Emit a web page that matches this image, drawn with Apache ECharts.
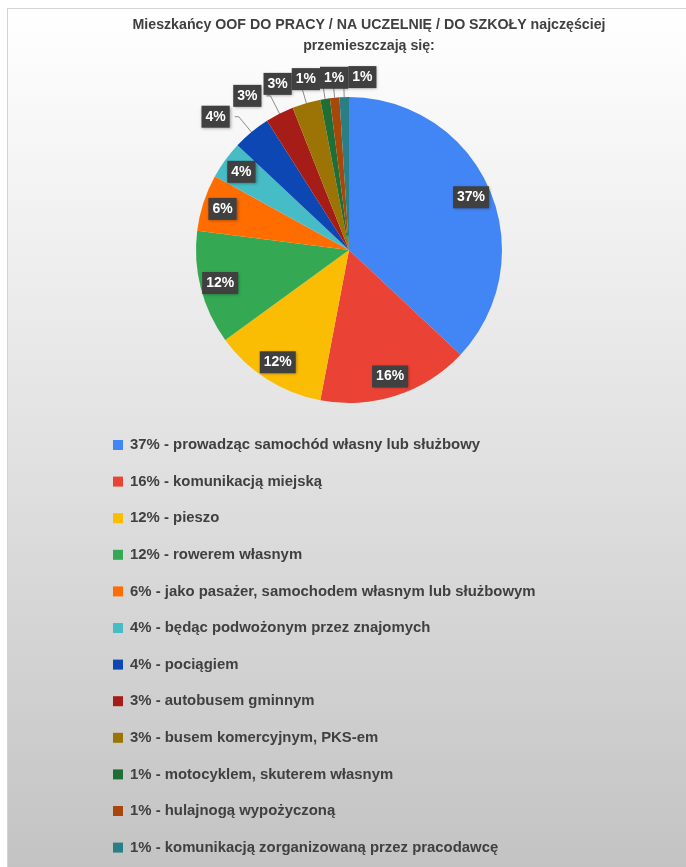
<!DOCTYPE html>
<html>
<head>
<meta charset="utf-8">
<script src="https://cdn.jsdelivr.net/npm/echarts@6/dist/echarts.min.js"></script>
<style>
html,body{margin:0;padding:0;background:#ffffff;}
#frame{position:absolute;left:7px;top:8px;width:679px;height:859px;border-left:1px solid #d4d4d4;border-top:1px solid #d4d4d4;}
#chart{width:679px;height:859px;}
</style>
</head>
<body>
<div id="frame"><div id="chart"></div></div>
<script>
const titleText = 'Mieszkańcy OOF DO PRACY / NA UCZELNIĘ / DO SZKOŁY najczęściej\nprzemieszczają się:';
const categories = [
  'prowadząc samochód własny lub służbowy',
  'komunikacją miejską',
  'pieszo',
  'rowerem własnym',
  'jako pasażer, samochodem własnym lub służbowym',
  'będąc podwożonym przez znajomych',
  'pociągiem',
  'autobusem gminnym',
  'busem komercyjnym, PKS-em',
  'motocyklem, skuterem własnym',
  'hulajnogą wypożyczoną',
  'komunikacją zorganizowaną przez pracodawcę'
];
const values = [37, 16, 12, 12, 6, 4, 4, 3, 3, 1, 1, 1];
const colors = ['#4285F4','#EA4335','#FBBC04','#34A853','#FF6D01','#46BDC6','#0D47B3','#A51D16','#9C7405','#1E6E35','#A8470A','#2A7E85'];
const insideCount = 6;

const boxLabel = {
  color: '#ffffff',
  fontFamily: 'Liberation Sans',
  fontWeight: 'bold',
  fontSize: 14,
  lineHeight: 14,
  backgroundColor: '#404040',
  padding: [4, 4, 4, 4],
  shadowColor: 'rgba(0,0,0,0.35)',
  shadowBlur: 3,
  shadowOffsetX: 1,
  shadowOffsetY: 1,
  formatter: p => p.value + '%'
};

const mainData = categories.map((n, i) => ({
  name: n,
  value: values[i],
  itemStyle: { color: colors[i] },
  label: i < insideCount ? { show: false } : { show: true, position: 'outside' },
  labelLine: { show: i >= insideCount }
}));
const overlayData = categories.map((n, i) => ({
  name: n,
  value: values[i],
  itemStyle: { color: 'rgba(0,0,0,0)' },
  label: { show: i < insideCount }
}));

const chart = echarts.init(document.getElementById('chart'), null, { renderer: 'canvas' });
chart.setOption({
  backgroundColor: {
    type: 'linear', x: 0, y: 0, x2: 0, y2: 1,
    colorStops: [{ offset: 0, color: '#ffffff' }, { offset: 0.5, color: '#e2e2e2' }, { offset: 1, color: '#c3c3c3' }]
  },
  animation: false,
  title: {
    text: titleText,
    left: 356,
    textAlign: 'center',
    top: 1,
    textStyle: { fontFamily: 'Liberation Sans', fontWeight: 'bold', fontSize: 14.2, color: '#404040', lineHeight: 21 }
  },
  legend: {
    orient: 'vertical',
    left: 100,
    top: 423,
    itemWidth: 10,
    itemHeight: 10,
    itemGap: 20.6,
    icon: 'rect',
    data: categories,
    formatter: name => values[categories.indexOf(name)] + '% - ' + name,
    textStyle: { fontFamily: 'Liberation Sans', fontWeight: 'bold', fontSize: 14.9, color: '#404040', lineHeight: 16, padding: [0, 0, 0, 2] }
  },
  series: [
    {
      type: 'pie',
      center: [341, 241],
      radius: [0, 153],
      startAngle: 90,
      clockwise: true,
      avoidLabelOverlap: false,
      data: mainData,
      itemStyle: { borderWidth: 0 },
      label: boxLabel,
      labelLine: { length: 20, length2: 4, lineStyle: { color: '#8c8c8c', width: 1 } },
      labelLayout: { moveOverlap: 'shiftX', hideOverlap: false },
      emphasis: { disabled: true }
    },
    {
      type: 'pie',
      center: [341, 241],
      radius: [107, 153],
      startAngle: 90,
      clockwise: true,
      silent: true,
      data: overlayData,
      label: Object.assign({}, boxLabel, { position: 'inside' }),
      labelLine: { show: false },
      emphasis: { disabled: true }
    }
  ]
});
</script>
</body>
</html>
